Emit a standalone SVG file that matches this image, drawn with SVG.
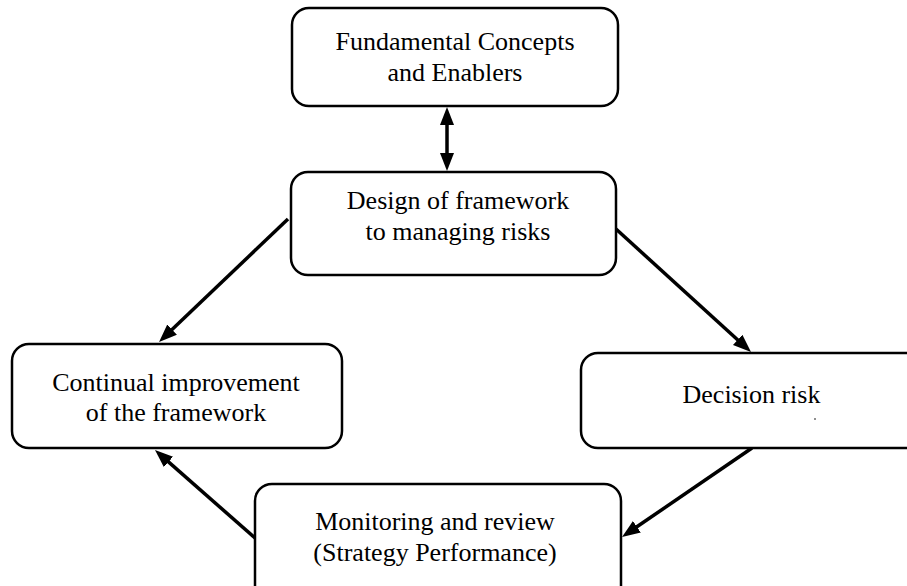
<svg xmlns="http://www.w3.org/2000/svg" width="907" height="586" viewBox="0 0 907 586">
  <style>
    .box { fill: #ffffff; stroke: #000000; stroke-width: 2.5; }
    .label { font-family: "Liberation Serif", "Times New Roman", serif; font-size: 26px; fill: #000000; text-anchor: middle; }
    .conn { stroke: #000000; stroke-width: 3.5; fill: none; marker-end: url(#head); }
  </style>
  <defs>
    <marker id="head" markerUnits="userSpaceOnUse" markerWidth="20" markerHeight="16" refX="8" refY="7" orient="auto-start-reverse">
      <path d="M0,0 L18,7 L0,14 z" fill="#000000"/>
    </marker>
  </defs>
  <rect width="907" height="586" fill="#ffffff"/>

  <g id="connectors">
    <line class="conn" x1="447" y1="117" x2="447" y2="161" style="marker-start: url(#head)"/>
    <line class="conn" x1="288" y1="219" x2="166.3" y2="335.1"/>
    <line class="conn" x1="616" y1="229" x2="743.6" y2="345.3"/>
    <line class="conn" x1="752" y1="448" x2="630.3" y2="531.3"/>
    <line class="conn" x1="255" y1="538" x2="162.5" y2="456.6"/>
  </g>

  <g id="fundamental">
    <rect class="box" x="292" y="8" width="326" height="98" rx="17"/>
    <text class="label" x="455" y="50">Fundamental Concepts</text>
    <text class="label" x="455" y="81">and Enablers</text>
  </g>

  <g id="design">
    <rect class="box" x="291" y="172" width="325" height="103" rx="17"/>
    <text class="label" x="458" y="209">Design of framework</text>
    <text class="label" x="458" y="240">to managing risks</text>
  </g>

  <g id="continual">
    <rect class="box" x="12" y="344" width="330" height="104" rx="17"/>
    <text class="label" x="176" y="391">Continual improvement</text>
    <text class="label" x="176" y="421">of the framework</text>
  </g>

  <g id="decision">
    <rect class="box" x="581" y="353" width="345" height="95" rx="17"/>
    <text class="label" x="751.5" y="403">Decision risk</text>
    <circle cx="815" cy="419" r="0.8" fill="#000000"/>
  </g>

  <g id="monitoring">
    <rect class="box" x="255" y="484" width="366" height="120" rx="17"/>
    <text class="label" x="435" y="530">Monitoring and review</text>
    <text class="label" x="435" y="561">(Strategy Performance)</text>
  </g>
</svg>
